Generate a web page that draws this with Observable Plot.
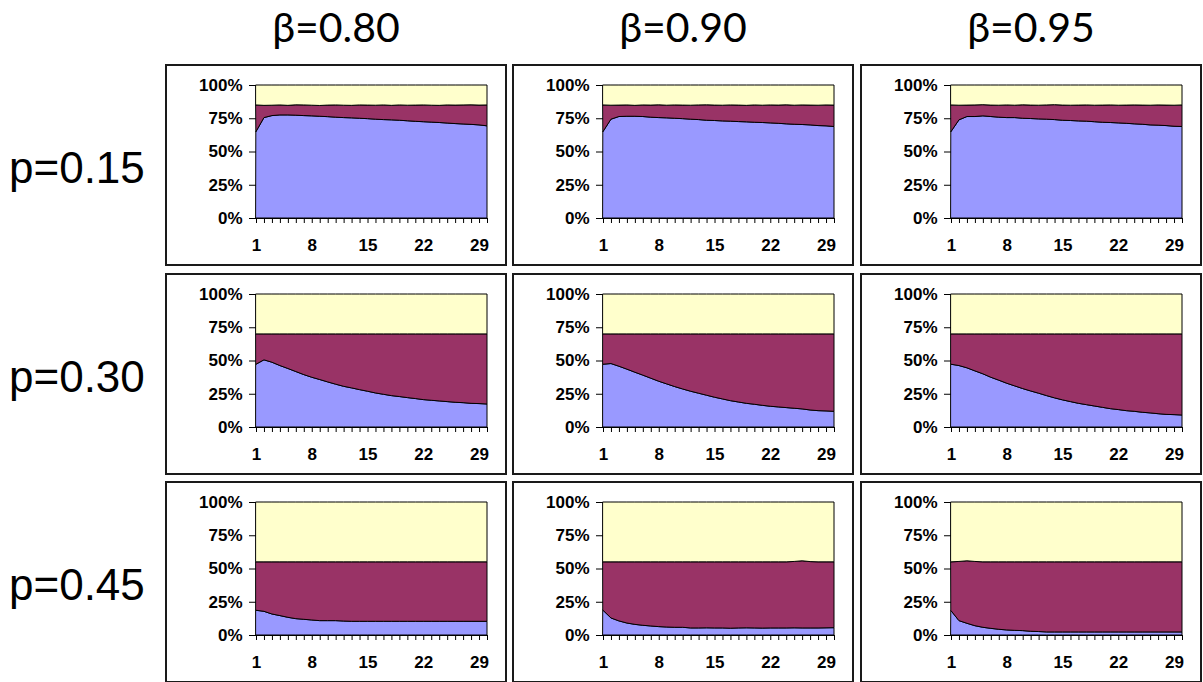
<!DOCTYPE html>
<html>
<head>
<meta charset="utf-8">
<script src="https://cdn.jsdelivr.net/npm/d3@7"></script>
<script src="https://cdn.jsdelivr.net/npm/@observablehq/plot@0.6"></script>
<style>
  html, body { margin: 0; padding: 0; background: #fff; }
  body { width: 1203px; height: 682px; overflow: hidden; position: relative; font-family: "Liberation Sans", Arial, Helvetica, sans-serif; }
  .panel { position: absolute; border: 2px solid #1a1a1a; width: 338px; height: 198px; background: #fff; }
  .panel svg { display: block; }
  #labels { position: absolute; left: 0; top: 0; }
</style>
</head>
<body>
<svg id="labels" width="1203" height="682"></svg>
<script>
// ---- categories ----
const periods = [1,2,3,4,5,6,7,8,9,10,11,12,13,14,15,16,17,18,19,20,21,22,23,24,25,26,27,28,29,30];
const periodLabels = [1, 8, 15, 22, 29];
const betas = ["β=0.80", "β=0.90", "β=0.95"];
const probs = ["p=0.15", "p=0.30", "p=0.45"];
const states = ["low", "mid", "high"];
const stateColors = ["#9999FF", "#993366", "#FFFFCC"];
const yTicks = [0, 25, 50, 75, 100];

// ---- series: top of the blue band (%) per panel ----
const blue_p15_b80 = [65,75.5,77,77.5,77.5,77.3,77,76.8,76.5,76.2,75.8,75.5,75.3,75,74.7,74.3,74,73.8,73.5,73.1,72.7,72.4,72.1,71.8,71.4,71,70.7,70.4,70,69.3];
const blue_p15_b90 = [65,74.3,76.3,76.5,76.5,76.3,75.8,75.5,75.3,75,74.7,74.3,74,73.5,73.3,73,72.8,72.5,72.3,72,71.8,71.5,71.2,70.8,70.5,70.3,70,69.5,69.3,68.8];
const blue_p15_b95 = [65,73.8,76.3,76.3,76.8,76.3,75.8,75.5,75.5,75,74.8,74.5,74.3,74,73.5,73.3,73,72.8,72.4,72,71.8,71.5,71.2,70.8,70.5,70,69.8,69.5,69,68.8];
const blue_p30_b80 = [47.2,50.5,48.7,46.2,44,41.7,39.4,37.4,35.7,33.9,32.2,30.6,29.4,28.1,26.9,25.6,24.6,23.6,22.9,22.1,21.4,20.6,20.1,19.6,19.1,18.6,18.3,17.8,17.6,17.3];
const blue_p30_b90 = [47.2,47.7,45.7,43.5,41.2,39,36.7,34.4,32.4,30.4,28.6,26.9,25.4,23.9,22.4,21.1,19.8,18.8,17.8,17.1,16.3,15.6,15.1,14.6,14.1,13.6,12.8,12.3,12.1,11.8];
const blue_p30_b95 = [47.2,46.2,44.5,42.2,40,37.4,35.2,32.9,30.9,28.9,27.1,25.4,23.6,21.9,20.4,19.1,17.8,16.8,15.8,14.8,13.8,13.1,12.3,11.8,11.1,10.6,10,9.5,9.3,9];
const blue_p45_b80 = [18.6,17.8,15.8,14.6,13.3,12.3,11.8,11.3,10.8,10.8,10.8,10.5,10.3,10.3,10.3,10.3,10.3,10.3,10.3,10.3,10.3,10.3,10.3,10.3,10.3,10.3,10.3,10.3,10.3,10.3];
const blue_p45_b90 = [18.6,12.8,10.6,9,8,7.3,6.8,6.3,6,5.8,5.8,5.3,5.3,5.4,5.3,5.3,5.1,5.3,5.4,5.3,5.2,5.3,5.3,5.3,5.4,5.3,5.3,5.3,5.4,5.5];
const blue_p45_b95 = [18.3,10.8,8.8,7,5.8,5,4.3,3.8,3.5,3.3,2.8,2.6,2.3,2.3,2.3,2.3,2.3,2.3,2.3,2.3,2.3,2.3,2.3,2.3,2.3,2.3,2.3,2.3,2.3,2.3];

// ---- series: top of the maroon band (%) per panel ----
const top_p15_b80 = [85,84.7,84.8,85,84.7,85.1,85,84.8,84.6,84.9,85,84.8,84.7,85,84.9,84.8,85,84.7,85,84.8,84.9,85,84.8,84.7,85,84.9,85,85.1,84.9,85];
const top_p15_b90 = [85,84.8,84.9,85,84.7,85,84.9,85.1,84.8,85,84.9,84.8,85,85.1,84.9,84.8,85,84.9,84.7,85,84.8,85,84.9,85.1,84.8,85,84.9,84.8,85,84.9];
const top_p15_b95 = [85,84.8,84.9,85,85.2,84.9,84.8,85,84.8,85.1,84.9,84.8,85,85.2,84.9,84.8,84.9,85,84.8,84.9,85,84.8,84.9,85,84.9,84.8,85,84.9,84.8,85];
const top_p30_b80 = [70,70,70,70,70,70,70,70,70,70,70,70,70,70,70,70,70,70,70,70,70,70,70,70,70,70,70,70,70,70];
const top_p30_b90 = [70,70,70,70,70,70,70,70,70,70,70,70,70,70,70,70,70,70,70,70,70,70,70,70,70,70,70,70,70,70];
const top_p30_b95 = [70,70,70,70,70,70,70,70,70,70,70,70,70,70,70,70,70,70,70,70,70,70,70,70,70,70,70,70,70,70];
const top_p45_b80 = [55,55,55,55,55,55,55,55,55,55,55,55,55,55,55,55,55,55,55,55,55,55,55,55,55,55,55,55,55,55];
const top_p45_b90 = [55,55,55,55,55,55,55,55,55,55,55,55,55,55,55,55,55,55,55,55,55,55,55,55,55.3,55.8,55.2,55,55,55];
const top_p45_b95 = [55,55.3,55.8,55.3,55,55,55,55,55,55,55,55,55,55,55,55,55,55,55,55,55,55,55,55,55,55,55,55,55,55];

const panels = [
  [ [blue_p15_b80, top_p15_b80], [blue_p15_b90, top_p15_b90], [blue_p15_b95, top_p15_b95] ],
  [ [blue_p30_b80, top_p30_b80], [blue_p30_b90, top_p30_b90], [blue_p30_b95, top_p30_b95] ],
  [ [blue_p45_b80, top_p45_b80], [blue_p45_b90, top_p45_b90], [blue_p45_b95, top_p45_b95] ]
];

// ---- layout ----
const boxLeft = [165, 512, 860];
const boxTop = [64, 273, 481];

function panelRows(blue, top) {
  const rows = [];
  periods.forEach((t, i) => {
    rows.push({t, state: "low", share: blue[i]});
    rows.push({t, state: "mid", share: top[i] - blue[i]});
    rows.push({t, state: "high", share: 100 - top[i]});
  });
  return rows;
}

panels.forEach((row, r) => {
  row.forEach(([blue, top], c) => {
    const data = panelRows(blue, top);
    const chart = Plot.plot({
      width: 338,
      height: 198,
      marginLeft: 89,
      marginRight: 18,
      marginTop: 19,
      marginBottom: 46,
      style: { fontFamily: '"Liberation Sans", Arial, Helvetica, sans-serif', fontSize: "17px", fontWeight: "bold", color: "#000", background: "#fff" },
      x: { domain: [1, 30] },
      y: { domain: [0, 100] },
      color: { domain: states, range: stateColors },
      marks: [
        Plot.areaY(data, {
          x: "t", y: "share", z: "state", fill: "state",
          order: states, stroke: "#000", strokeWidth: 1, strokeOpacity: 1
        }),
        Plot.axisY({ ticks: yTicks, tickFormat: d => d + "%", tickSize: 7, tickPadding: 7, stroke: "#000", strokeOpacity: 1, fill: "#000", label: null }),
        Plot.axisX({ ticks: periods, tickFormat: d => periodLabels.includes(d) ? String(d) : "", tickSize: 5, tickPadding: 15, stroke: "#000", strokeOpacity: 1, fill: "#000", label: null }),
        Plot.ruleY([0], { stroke: "#000", strokeWidth: 1.2 })
      ]
    });
    const div = document.createElement("div");
    div.className = "panel";
    div.style.left = boxLeft[c] + "px";
    div.style.top = boxTop[r] + "px";
    div.appendChild(chart);
    document.body.appendChild(div);
  });
});

// ---- headers and row labels ----
const svg = d3.select("#labels");
const headerX = [336, 683, 1031];
svg.selectAll("text.col").data(betas).join("text")
  .attr("class", "col")
  .attr("x", (d, i) => headerX[i])
  .attr("y", 42)
  .attr("text-anchor", "middle")
  .attr("font-family", "Lato, 'Open Sans', sans-serif")
  .attr("font-size", 41)
  .attr("fill", "#000")
  .text(d => d);
const rowBaseline = [183, 392, 600];
svg.selectAll("text.row").data(probs).join("text")
  .attr("class", "row")
  .attr("x", 9)
  .attr("y", (d, i) => rowBaseline[i])
  .attr("font-family", "'Liberation Sans', Arial, Helvetica, sans-serif")
  .attr("font-size", 44)
  .attr("fill", "#000")
  .text(d => d);
</script>
</body>
</html>
